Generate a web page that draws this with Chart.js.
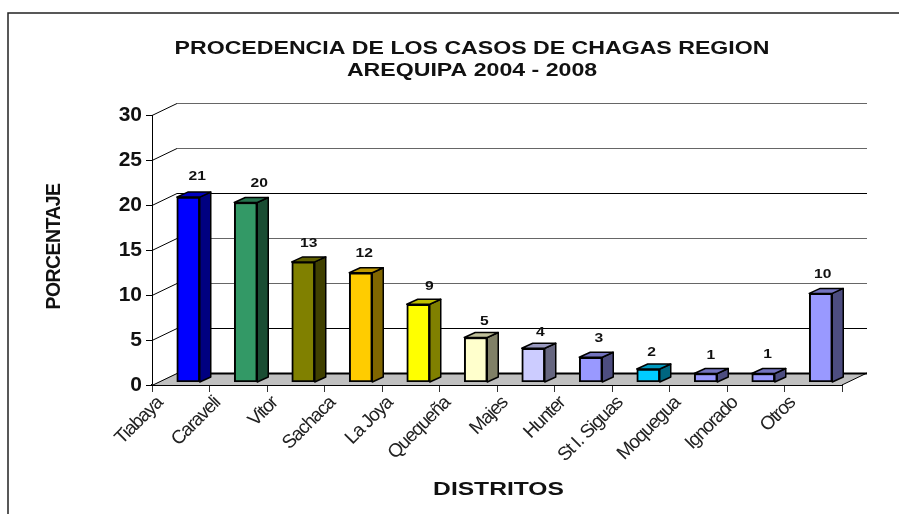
<!DOCTYPE html>
<html lang="es">
<head>
    <meta charset="UTF-8">
    <title>Procedencia de los casos de Chagas</title>
    <script src="https://cdn.jsdelivr.net/npm/chart.js"></script>
    <style>
        html, body { margin: 0; padding: 0; background: #fff; overflow: hidden; }
        canvas { display: block; }
    </style>
</head>
<body>
    <canvas id="chagasChart" width="899" height="514"></canvas>

    <script>
        const distritos = ["Tiabaya", "Caraveli", "Vitor", "Sachaca", "La Joya", "Quequeña", "Majes", "Hunter", "St I. Siguas", "Moquegua", "Ignorado", "Otros"];
        const porcentajes = [20.6, 20, 13.4, 12.2, 8.7, 5, 3.8, 2.8, 1.5, 1, 1, 9.9];
        const colores = ["#0000ff", "#339966", "#808000", "#ffcc00", "#ffff00", "#ffffcc", "#ccccff", "#9999ff", "#00ccff", "#9999ff", "#9999ff", "#9999ff"];
        const titulo = ["PROCEDENCIA DE LOS CASOS DE CHAGAS REGION", "AREQUIPA 2004 - 2008"];
        const yMax = 30;
        const yPaso = 5;

        // profundidad del piso y de las barras (falso 3D)
        const pisoDx = 25, pisoDy = -12;
        const barraDx = 11, barraDy = -5;
        const barraOffX = 7.5, barraOffY = -2.5;
        // ajuste fino de las etiquetas sobre cada barra
        const etiquetaDx = [9, 13.5, 5.5, 3.5, 11, 8.7, 7, 8, 3.3, 5, 4.3, 2];
        const etiquetaDy = [-20.5, -18.5, -18.5, -19.2, -17.5, -15.8, -15.5, -18.5, -16.5, -17.5, -18.5, -19.2];
        const grisLineas = { 0: "#000", 5: "#000", 10: "#666", 15: "#666", 20: "#000", 25: "#666", 30: "#666" };

        function sombra(hex, f) {
            const n = parseInt(hex.slice(1), 16);
            const r = Math.round((n >> 16 & 255) * f), g = Math.round((n >> 8 & 255) * f), b = Math.round((n & 255) * f);
            return `rgb(${r},${g},${b})`;
        }

        // estira el texto en horizontal alrededor de un centro
        function estirar(ctx, desde, hacia, sx, dibujar) {
            ctx.save();
            ctx.translate(hacia, 0);
            ctx.scale(sx, 1);
            ctx.translate(-desde, 0);
            dibujar();
            ctx.restore();
        }

        class EscalaDistritos extends Chart.CategoryScale {
            drawLabels(area) {
                this.ctx.save();
                this.ctx.letterSpacing = "-1.2px";
                super.drawLabels(area);
                this.ctx.restore();
            }
            drawTitle() {
                const cx = (this.left + this.right) / 2;
                estirar(this.ctx, cx, cx + 1.5, 1.33, () => super.drawTitle());
            }
        }
        EscalaDistritos.id = "distritos";
        EscalaDistritos.defaults = Chart.CategoryScale.defaults;

        class EscalaPorcentaje extends Chart.LinearScale {
            drawTitle() {
                this.ctx.save();
                this.ctx.letterSpacing = "-0.6px";
                this.ctx.translate(2, -3.5);
                super.drawTitle();
                this.ctx.restore();
            }
        }
        EscalaPorcentaje.id = "porcentaje";
        EscalaPorcentaje.defaults = Chart.LinearScale.defaults;

        Chart.register(EscalaDistritos, EscalaPorcentaje);

        const marco3d = {
            id: "marco3d",
            afterLayout(chart) {
                // el título va estirado y centrado en x=472
                const t = chart.titleBlock;
                if (t._estirado) return;
                const original = t.draw;
                t.draw = function () {
                    estirar(chart.ctx, (t.left + t.right) / 2, 472, 1.25, () => original.call(t));
                };
                t._estirado = true;
            },
            beforeDraw(chart) {
                const { ctx, width, height } = chart;
                ctx.save();
                ctx.strokeStyle = "#222";
                ctx.lineWidth = 1.5;
                ctx.beginPath();
                ctx.moveTo(8, height);
                ctx.lineTo(8, 13);
                ctx.lineTo(width, 13);
                ctx.stroke();
                ctx.restore();
            },
            beforeDatasetsDraw(chart) {
                const { ctx, scales: { x, y } } = chart;
                const izq = x.left, der = x.right, base = y.getPixelForValue(0);
                ctx.save();
                // piso gris
                ctx.fillStyle = "#c0c0c0";
                ctx.beginPath();
                ctx.moveTo(izq, base);
                ctx.lineTo(der, base);
                ctx.lineTo(der + pisoDx, base + pisoDy);
                ctx.lineTo(izq + pisoDx, base + pisoDy);
                ctx.closePath();
                ctx.fill();
                // líneas de la pared
                y.ticks.forEach(t => {
                    const py = Math.round(y.getPixelForValue(t.value)) + 0.5;
                    ctx.strokeStyle = "#000";
                    ctx.lineWidth = 1;
                    ctx.beginPath();
                    ctx.moveTo(izq, py);
                    ctx.lineTo(izq + pisoDx, py + pisoDy);
                    ctx.stroke();
                    ctx.strokeStyle = grisLineas[t.value];
                    ctx.lineWidth = t.value === 0 ? 2 : 1.2;
                    ctx.beginPath();
                    ctx.moveTo(izq + pisoDx, py + pisoDy);
                    ctx.lineTo(der + pisoDx, py + pisoDy);
                    ctx.stroke();
                });
                ctx.strokeStyle = "#000";
                ctx.lineWidth = 1;
                ctx.beginPath();
                ctx.moveTo(der, base);
                ctx.lineTo(der + pisoDx, base + pisoDy);
                ctx.stroke();
                ctx.restore();
                // las barras se apoyan dentro del piso
                ctx.save();
                ctx.translate(barraOffX, barraOffY);
            },
            afterDatasetsDraw(chart) {
                const { ctx } = chart;
                const barras = chart.getDatasetMeta(0).data;
                barras.forEach((b, i) => {
                    const d = b.getProps(["x", "y", "base", "width"], true);
                    const l = d.x - d.width / 2, r = d.x + d.width / 2;
                    ctx.lineWidth = 1.5;
                    ctx.strokeStyle = "#000";
                    ctx.lineJoin = "round";
                    // cara lateral
                    ctx.fillStyle = sombra(colores[i], 0.5);
                    ctx.beginPath();
                    ctx.moveTo(r, d.y);
                    ctx.lineTo(r + barraDx, d.y + barraDy);
                    ctx.lineTo(r + barraDx, d.base + barraDy);
                    ctx.lineTo(r, d.base);
                    ctx.closePath();
                    ctx.fill();
                    ctx.stroke();
                    // cara superior
                    ctx.fillStyle = sombra(colores[i], 0.75);
                    ctx.beginPath();
                    ctx.moveTo(l, d.y);
                    ctx.lineTo(l + barraDx, d.y + barraDy);
                    ctx.lineTo(r + barraDx, d.y + barraDy);
                    ctx.lineTo(r, d.y);
                    ctx.closePath();
                    ctx.fill();
                    ctx.stroke();
                });
                ctx.restore();
                // etiquetas de valor
                ctx.save();
                ctx.font = "bold 12.5px 'Liberation Sans'";
                ctx.fillStyle = "#111";
                ctx.textAlign = "center";
                ctx.textBaseline = "middle";
                barras.forEach((b, i) => {
                    const cx = b.x + barraOffX + etiquetaDx[i];
                    const cy = b.y + barraOffY + etiquetaDy[i];
                    estirar(ctx, cx, cx, 1.25, () => ctx.fillText(String(Math.round(porcentajes[i])), cx, cy));
                });
                ctx.restore();
            }
        };

        new Chart(document.getElementById("chagasChart"), {
            type: "bar",
            data: {
                labels: distritos,
                datasets: [{
                    data: porcentajes,
                    backgroundColor: colores,
                    borderColor: "#000",
                    borderWidth: 2,
                    borderSkipped: false,
                    barThickness: 23
                }]
            },
            options: {
                responsive: false,
                animation: false,
                devicePixelRatio: 1,
                layout: { padding: { left: 6, right: 57, top: 0, bottom: 0 } },
                plugins: {
                    legend: { display: false },
                    tooltip: { enabled: false },
                    title: {
                        display: true,
                        text: titulo,
                        color: "#111",
                        font: { family: "Liberation Sans", size: 18.5, weight: "bold", lineHeight: 1.19 },
                        padding: { top: 38, bottom: 33 }
                    }
                },
                scales: {
                    x: {
                        type: "distritos",
                        afterFit(scale) { scale.height = 129; },
                        border: { color: "#000", width: 2 },
                        grid: { offset: true, drawOnChartArea: false, drawTicks: true, tickLength: 7, color: "#333" },
                        ticks: {
                            color: "#222",
                            autoSkip: false,
                            minRotation: 45,
                            maxRotation: 45,
                            labelOffset: -21,
                            padding: 0,
                            font: { family: "Liberation Sans", size: 19 }
                        },
                        title: {
                            display: true,
                            text: "DISTRITOS",
                            color: "#111",
                            font: { family: "Liberation Sans", size: 18.5, weight: "bold" },
                            padding: { top: 14, bottom: 13 }
                        }
                    },
                    y: {
                        type: "porcentaje",
                        min: 0,
                        max: yMax,
                        afterFit(scale) { scale.width = 146; },
                        border: { color: "#000", width: 1 },
                        grid: { drawOnChartArea: false, drawTicks: true, tickLength: 6, color: "#000" },
                        ticks: {
                            stepSize: yPaso,
                            color: "#111",
                            padding: 4,
                            font: { family: "Liberation Sans", size: 21, weight: "bold" }
                        },
                        title: {
                            display: true,
                            text: "PORCENTAJE",
                            color: "#111",
                            font: { family: "Liberation Sans", size: 19.5, weight: "bold" },
                            padding: { top: 35, bottom: 4 }
                        }
                    }
                }
            },
            plugins: [marco3d]
        });
    </script>
</body>
</html>
